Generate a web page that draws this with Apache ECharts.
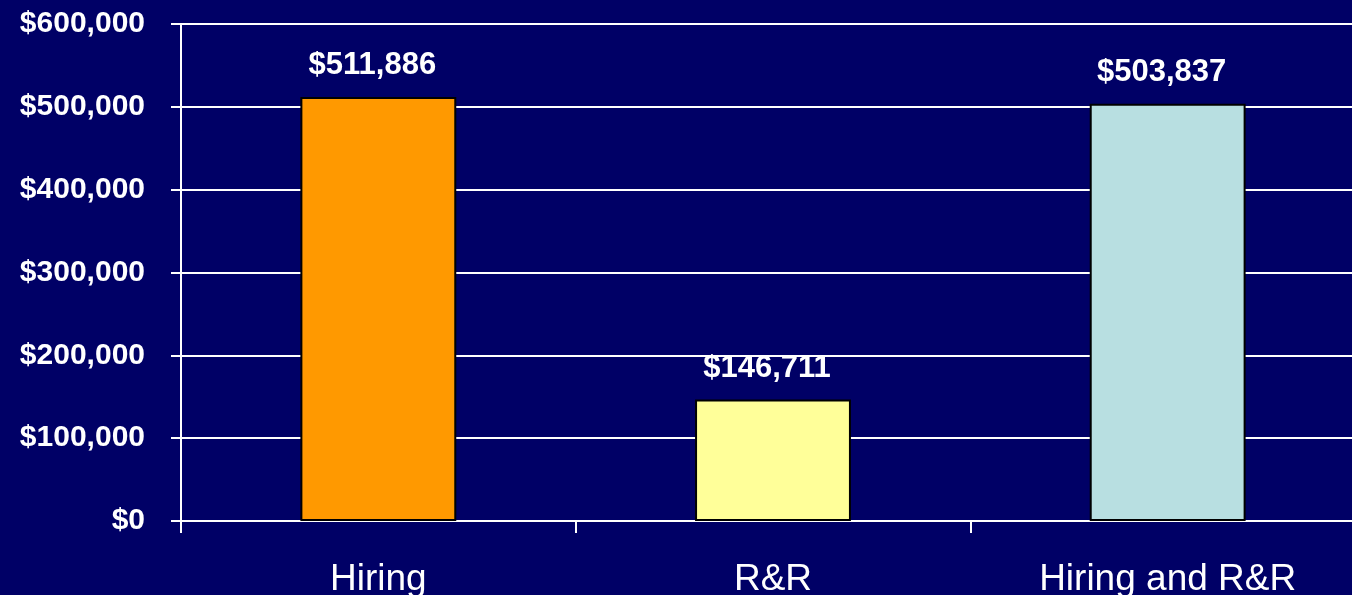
<!DOCTYPE html>
<html>
<head>
<meta charset="utf-8">
<script src="https://cdn.jsdelivr.net/npm/echarts@6/dist/echarts.min.js"></script>
<style>
  html, body { margin: 0; padding: 0; background: #000066; }
  #chart { width: 1352px; height: 595px; }
</style>
</head>
<body>
<div id="chart"></div>
<script>
  const categories = ['Hiring', 'R&R', 'Hiring and R&R']
  const values = [511886, 146711, 503837]
  const barColors = ['#FF9900', '#FFFF99', '#B8DFE1']

  const fmt = (v) => '$' + v.toLocaleString('en-US')

  const chart = echarts.init(document.getElementById('chart'))
  chart.setOption({
    backgroundColor: '#000066',
    animation: false,
    grid: {
      left: 181,
      right: -13, // plot runs past the right edge
      top: 24,
      bottom: 74,
      outerBoundsMode: 'none'
    },
    xAxis: {
      type: 'category',
      data: categories,
      axisLine: { lineStyle: { color: '#ffffff', width: 2 } },
      axisTick: { show: true, length: 12, lineStyle: { color: '#ffffff', width: 2 } },
      axisLabel: {
        color: '#ffffff',
        fontFamily: 'Liberation Sans, Arial',
        fontSize: 37,
        margin: 40
      }
    },
    yAxis: {
      type: 'value',
      min: 0,
      max: 600000,
      interval: 100000,
      axisLine: { show: true, lineStyle: { color: '#ffffff', width: 2 } },
      axisTick: { show: true, length: 10, lineStyle: { color: '#ffffff', width: 2 } },
      splitLine: { lineStyle: { color: '#ffffff', width: 2 } },
      axisLabel: {
        color: '#ffffff',
        fontFamily: 'Liberation Sans, Arial',
        fontWeight: 'bold',
        fontSize: 30,
        margin: 36,
        formatter: fmt
      }
    },
    series: [
      {
        type: 'bar',
        barWidth: '39.5%',
        data: values.map((v, i) => ({
          value: v,
          itemStyle: { color: barColors[i] }
        })),
        itemStyle: { borderColor: '#000000', borderWidth: 2 },
        label: {
          show: true,
          position: 'top',
          distance: 16,
          offset: [-6, 0],
          color: '#ffffff',
          fontFamily: 'Liberation Sans, Arial',
          fontWeight: 'bold',
          fontSize: 31,
          formatter: (p) => fmt(p.value)
        }
      }
    ]
  })
</script>
</body>
</html>
